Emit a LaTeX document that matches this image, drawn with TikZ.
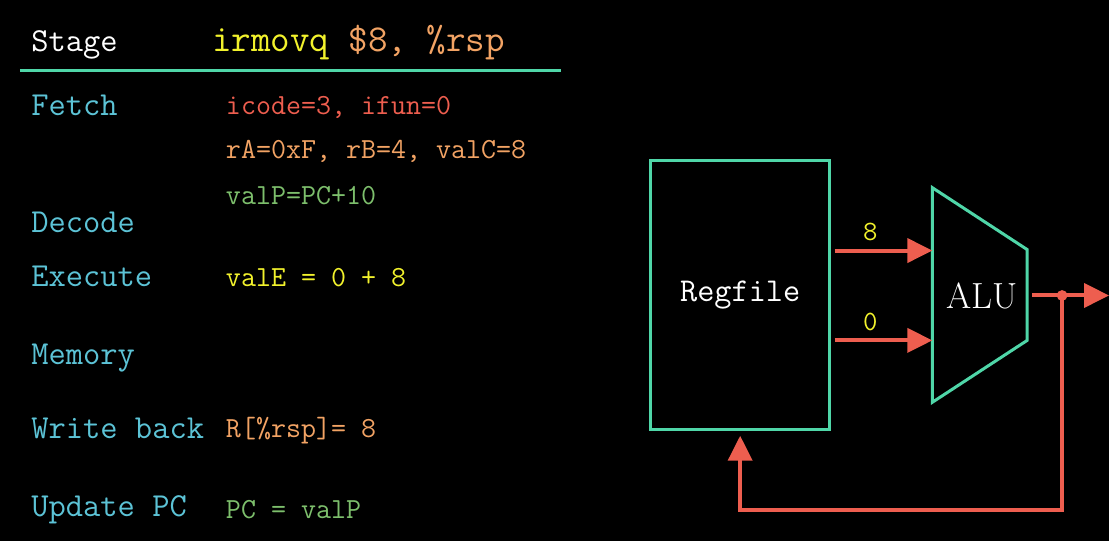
\documentclass[tikz,border=0pt]{standalone}
\usepackage{fontspec}
\usepackage{xcolor}
\usepackage{tikz}
\usetikzlibrary{arrows.meta,positioning}
\definecolor{stagecol}{HTML}{5CC3D6}
\definecolor{linecol}{HTML}{4FD6A8}
\definecolor{redcol}{HTML}{EE5E4F}
\definecolor{orangecol}{HTML}{F2A364}
\definecolor{greencol}{HTML}{7DBF6C}
\definecolor{yellowcol}{HTML}{F2F22C}
\tikzset{stg/.style={anchor=base west,inner sep=0pt,text=stagecol,font=\fontsize{16.8}{20}\selectfont\ttfamily}}
\tikzset{val/.style={anchor=base west,inner sep=0pt,font=\fontsize{14.6}{17}\selectfont\ttfamily}}
\tikzset{wire/.style={draw=redcol,line width=2pt}}
\tikzset{arr/.style={wire,-{Triangle[length=12.5pt,width=12pt]}}}
\tikzset{box/.style={draw=linecol,line width=1.5pt}}

\begin{document}
\begin{tikzpicture}[x=0.5pt,y=-0.5pt]
    \fill[black] (0,0) rectangle (1111,542);

    % table header
    \node[stg,text=white] (head)at (31,52) {Stage};
    \node[val,font=\fontsize{19}{22}\selectfont\ttfamily] (instr)at (212,52)
        {\textcolor{yellowcol}{irmovq} \textcolor{orangecol}{\$8, \%rsp}};
    \draw[box] (20,71) -- (562,71);

    % stages
    \node[stg] (fetch)at (31,116) {Fetch};
    \node[stg] (decode)at (31,233) {Decode};
    \node[stg] (execute)at (31,287) {Execute};
    \node[stg] (memory)at (31,365) {Memory};
    \node[stg] (wback)at (31,439) {Write back};
    \node[stg] (upc)at (31,517) {Update PC};

    % values
    \node[val,text=redcol] (icode)at (226,115) {icode=3, ifun=0};
    \node[val,text=orangecol] (regs)at (226,159) {rA=0xF, rB=4, valC=8};
    \node[val,text=greencol] (valp)at (226,205) {valP=PC+10};
    \node[val,text=yellowcol] (vale)at (226,287) {valE = 0 + 8};
    \node[val,text=orangecol] (wrsp)at (226,438) {R[\%rsp]= 8};
    \node[val,text=greencol] (newpc)at (226,519) {PC = valP};

    % datapath
    \node[box,minimum width=89.5pt,minimum height=134.5pt,inner sep=0pt,
        font=\fontsize{16.7}{20}\selectfont\ttfamily,text=white] (regfile)at (741.5,295.5) {Regfile};
    \draw[box] (934,188) -- (1029,250) -- (1029,341) -- (934,403) -- cycle;
    \node[text=white,font=\fontsize{18.2}{22}\selectfont] (alu)at (984,296) {ALU};

    \coordinate (srcA)at (836,251);
    \coordinate (srcB)at (836,341);
    \coordinate (aluA)at (934,251);
    \coordinate (aluB)at (934,341);
    \coordinate (aluout)at (1034,296);
    \coordinate (tap)at (1064,296);
    \coordinate (outend)at (1111,296);
    \coordinate (fbline)at (741,511);

    \draw [arr] (srcA) -- (aluA);
    \draw [arr] (srcB) -- (aluB);
    \node[val,anchor=base,text=yellowcol,font=\fontsize{14}{17}\selectfont\ttfamily] (lblA)at (872,241) {8};
    \node[val,anchor=base,text=yellowcol,font=\fontsize{14}{17}\selectfont\ttfamily] (lblB)at (872,331) {0};

    \draw [arr] (aluout) -- (outend);
    \fill[redcol] (tap) circle (2.7pt);
    \draw [arr] (tap) -- (tap |- fbline) -| ([yshift=-2.5pt]regfile.south);
\end{tikzpicture}
\end{document}
